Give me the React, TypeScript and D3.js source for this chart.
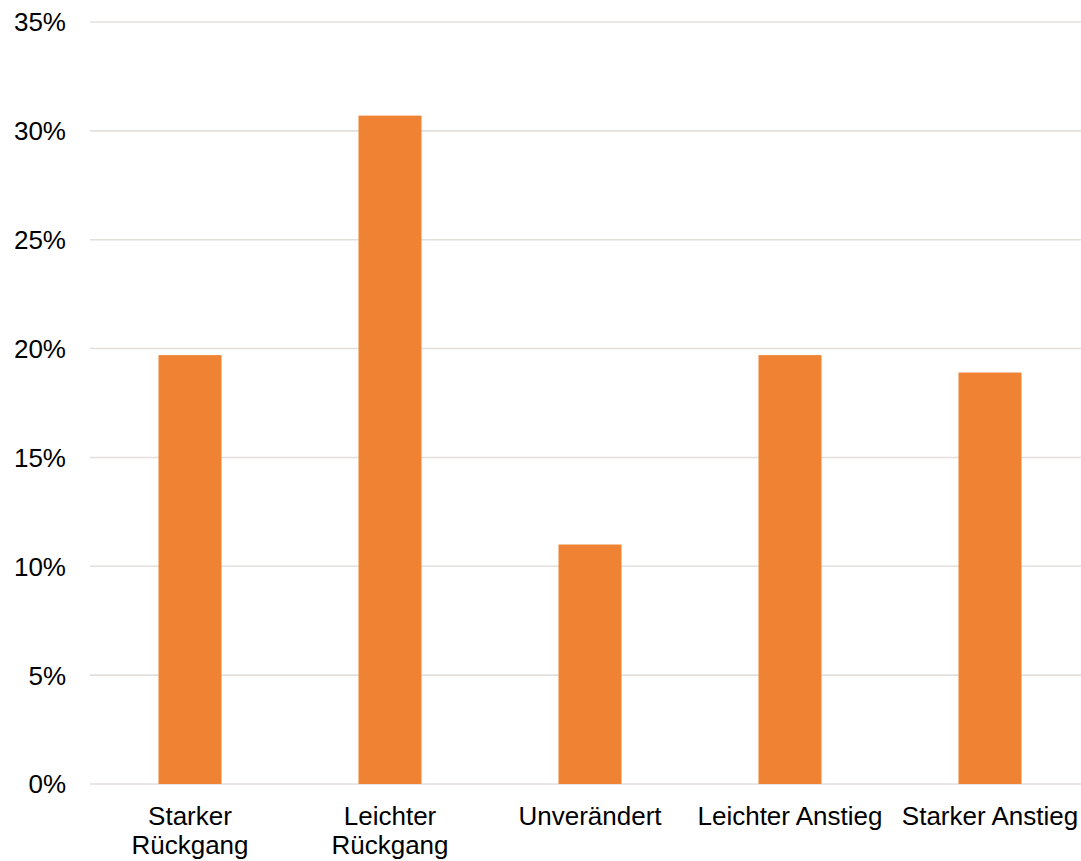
import React, { useRef, useEffect } from 'react';
import * as d3 from 'd3';

// Data
const categories = ['Starker Rückgang', 'Leichter Rückgang', 'Unverändert', 'Leichter Anstieg', 'Starker Anstieg'];
const labelLines = [['Starker', 'Rückgang'], ['Leichter', 'Rückgang'], ['Unverändert'], ['Leichter Anstieg'], ['Starker Anstieg']];
const shares = [0.197, 0.307, 0.11, 0.197, 0.189];
const yTicks = [0, 0.05, 0.1, 0.15, 0.2, 0.25, 0.3, 0.35];

const App = () => {
  const svgRef = useRef<SVGSVGElement | null>(null);
  const width = 1081;
  const height = 861;

  useEffect(() => {
    document.body.style.margin = '0';
    const svg = d3.select(svgRef.current);
    svg.selectAll('*').remove();

    const x = d3.scaleBand<string>()
      .domain(categories)
      .range([90, 1090])
      .paddingInner(0.685)
      .paddingOuter(0.3425);

    const y = d3.scaleLinear().domain([0, 0.35]).range([784, 22]);

    // Gridlines
    svg.append('g')
      .selectAll('line')
      .data(yTicks)
      .enter()
      .append('line')
      .attr('x1', 90)
      .attr('x2', width)
      .attr('y1', d => y(d))
      .attr('y2', d => y(d))
      .attr('stroke', '#e3dfdb')
      .attr('stroke-width', 1.6);

    // Y labels
    svg.append('g')
      .selectAll('text')
      .data(yTicks)
      .enter()
      .append('text')
      .attr('x', 66)
      .attr('y', d => y(d))
      .attr('dy', '0.36em')
      .attr('text-anchor', 'end')
      .attr('font-family', '"Liberation Sans", Arial, sans-serif')
      .attr('font-size', 26)
      .attr('fill', '#000')
      .text(d => `${Math.round(d * 100)}%`);

    // Bars
    svg.append('g')
      .selectAll('rect')
      .data(shares)
      .enter()
      .append('rect')
      .attr('x', (d, i) => x(categories[i]) as number)
      .attr('width', x.bandwidth())
      .attr('y', d => y(d))
      .attr('height', d => y(0) - y(d))
      .attr('fill', '#f08333');

    // X labels
    const xl = svg.append('g')
      .selectAll('text')
      .data(categories)
      .enter()
      .append('text')
      .attr('x', d => (x(d) as number) + x.bandwidth() / 2)
      .attr('y', 825)
      .attr('text-anchor', 'middle')
      .attr('font-family', '"Liberation Sans", Arial, sans-serif')
      .attr('font-size', 26)
      .attr('fill', '#000');

    xl.selectAll('tspan')
      .data((d, i) => labelLines[i])
      .enter()
      .append('tspan')
      .attr('x', function () {
        return (this as any).parentNode.getAttribute('x');
      })
      .attr('dy', (d, i) => (i === 0 ? 0 : 29))
      .text(d => d);
  }, []);

  return <svg ref={svgRef} width={width} height={height} style={{ display: 'block', background: '#fff' }} />;
};

export default App;
